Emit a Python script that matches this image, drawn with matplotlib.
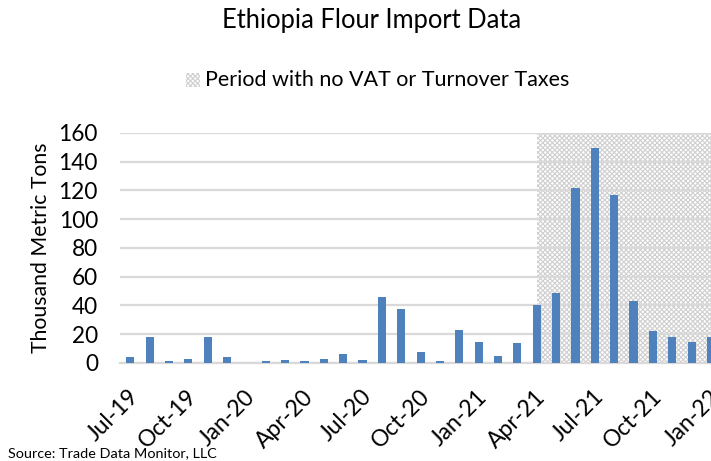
import matplotlib.pyplot as plt
import matplotlib.transforms as mtransforms
from matplotlib.patches import Rectangle

plt.rcParams['font.family'] = ['Lato', 'DejaVu Sans']
plt.rcParams['hatch.linewidth'] = 0.8

# monthly imports, Jul-19 .. Jan-22 (thousand metric tons)
months = ['Jul-19', 'Aug-19', 'Sep-19', 'Oct-19', 'Nov-19', 'Dec-19',
          'Jan-20', 'Feb-20', 'Mar-20', 'Apr-20', 'May-20', 'Jun-20',
          'Jul-20', 'Aug-20', 'Sep-20', 'Oct-20', 'Nov-20', 'Dec-20',
          'Jan-21', 'Feb-21', 'Mar-21', 'Apr-21', 'May-21', 'Jun-21',
          'Jul-21', 'Aug-21', 'Sep-21', 'Oct-21', 'Nov-21', 'Dec-21',
          'Jan-22']
imports = [4.4, 18.3, 1.4, 2.8, 17.9, 3.9,
           0.0, 1.4, 2.1, 1.6, 2.8, 6.0,
           2.1, 45.7, 37.8, 7.9, 1.4, 23.2,
           14.8, 4.9, 13.9, 40.3, 48.5, 121.5,
           149.6, 116.9, 42.9, 22.3, 18.3, 14.8,
           17.9]
no_tax_start = 'Apr-21'

x = list(range(len(months)))
hatch_col = '#cfcfcf'

fig = plt.figure(figsize=(7.11, 4.61), dpi=100)
ax = fig.add_axes([0.169, 0.2126, 0.831, 0.499])

# shaded no-tax period
start = months.index(no_tax_start)
ax.axvspan(start, len(months) + 1, facecolor='white', edgecolor=hatch_col,
           hatch='xxxxxxx', linewidth=0, zorder=0)

ax.bar(x, imports, width=0.42, color='#4F81BD', zorder=3)

ax.set_ylim(0, 160)
ax.set_yticks(range(0, 161, 20))
ax.set_xlim(-0.52, len(months) - 1)
ax.set_xticks(x[::3])
ax.set_xticklabels(months[::3], rotation=45, ha='right', va='center',
                   rotation_mode='anchor')
ax.tick_params(axis='x', length=0, labelsize=16.5, pad=22)
ax.tick_params(axis='y', length=0, labelsize=16.3, pad=16)
shift = mtransforms.ScaledTranslation(4 / 72, 0, fig.dpi_scale_trans)
for lbl in ax.get_xticklabels():
    lbl.set_transform(lbl.get_transform() + shift)
ax.grid(axis='y', color='#d9d9d9', linewidth=1.6, zorder=1)
ax.set_axisbelow(True)
for s in ['top', 'right', 'left']:
    ax.spines[s].set_visible(False)
ax.spines['bottom'].set_color('#d9d9d9')
ax.spines['bottom'].set_linewidth(1.6)
ax.set_ylabel('Thousand Metric Tons', fontsize=15.3, va='center')
ax.yaxis.set_label_coords(-0.134, 0.5)

fig.text(0.522, 0.955, 'Ethiopia Flour Import Data', ha='center', va='center', fontsize=18.4)

# legend entry
fig.patches.append(Rectangle((186 / 711, 1 - 87 / 461), 14 / 711, 14 / 461,
                             transform=fig.transFigure, facecolor='white',
                             edgecolor=hatch_col, hatch='xxxxxxx', linewidth=0))
fig.text(205 / 711, 1 - 80 / 461, 'Period with no VAT or Turnover Taxes',
         ha='left', va='center', fontsize=15.5)

fig.text(8 / 711, 1 - 453 / 461, 'Source: Trade Data Monitor, LLC',
         ha='left', va='center', fontsize=10.4)

fig.savefig('out.png', dpi=100)
